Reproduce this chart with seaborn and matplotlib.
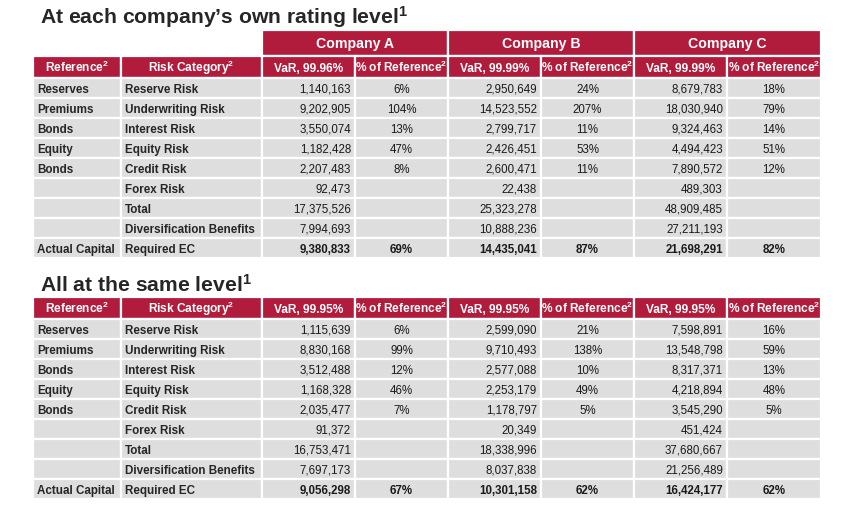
import seaborn as sns
from matplotlib import pyplot as plt
from matplotlib.patches import Rectangle

references = ["Reserves", "Premiums", "Bonds", "Equity", "Bonds", "", "", "", "Actual Capital"]
risk_categories = ["Reserve Risk", "Underwriting Risk", "Interest Risk", "Equity Risk", "Credit Risk",
                   "Forex Risk", "Total", "Diversification Benefits", "Required EC"]
companies = ["Company A", "Company B", "Company C"]
own_levels = ["99.96%", "99.99%", "99.99%"]
same_levels = ["99.95%", "99.95%", "99.95%"]

own_var_a = [1140163, 9202905, 3550074, 1182428, 2207483, 92473, 17375526, 7994693, 9380833]
own_pct_a = [6, 104, 13, 47, 8, None, None, None, 69]
own_var_b = [2950649, 14523552, 2799717, 2426451, 2600471, 22438, 25323278, 10888236, 14435041]
own_pct_b = [24, 207, 11, 53, 11, None, None, None, 87]
own_var_c = [8679783, 18030940, 9324463, 4494423, 7890572, 489303, 48909485, 27211193, 21698291]
own_pct_c = [18, 79, 14, 51, 12, None, None, None, 82]

same_var_a = [1115639, 8830168, 3512488, 1168328, 2035477, 91372, 16753471, 7697173, 9056298]
same_pct_a = [6, 99, 12, 46, 7, None, None, None, 67]
same_var_b = [2599090, 9710493, 2577088, 2253179, 1178797, 20349, 18338996, 8037838, 10301158]
same_pct_b = [21, 138, 10, 49, 5, None, None, None, 62]
same_var_c = [7598891, 13548798, 8317371, 4218894, 3545290, 451424, 37680667, 21256489, 16424177]
same_pct_c = [16, 59, 13, 48, 5, None, None, None, 62]

RED = "#B21C3C"
GREY = "#DEDEDE"
COL_EDGES = [33, 121, 262, 355, 448, 541, 634, 727, 821]
ROW_H = 20
HEAD_H = 22
FONT = "Liberation Sans"
SUP = r"$^{\mathbf{2}}$"


def _cell(ax, x0, x1, y0, h, color):
    ax.add_patch(Rectangle((x0, y0), x1 - x0, h, facecolor=color, edgecolor="white", linewidth=1.6))


def _header_row(ax, top, levels):
    labels = ["Reference" + SUP, "Risk Category" + SUP]
    for lvl in levels:
        labels += [f"VaR, {lvl}", "% of Reference" + SUP]
    for i, lab in enumerate(labels):
        x0, x1 = COL_EDGES[i], COL_EDGES[i + 1]
        _cell(ax, x0, x1, top, HEAD_H, RED)
        ax.text((x0 + x1) / 2, top + HEAD_H / 2 + 5, lab, ha="center", va="baseline",
                color="white", fontsize=8.6, fontweight="bold", family=FONT)


def _body(ax, top, var_cols, pct_cols):
    n = len(risk_categories)
    for r in range(n):
        y0 = top + r * ROW_H
        yb = y0 + ROW_H / 2 + 4.6
        last = r == n - 1
        for i in range(len(COL_EDGES) - 1):
            _cell(ax, COL_EDGES[i], COL_EDGES[i + 1], y0, ROW_H, GREY)
        ax.text(COL_EDGES[0] + 4, yb, references[r], ha="left", va="baseline",
                fontsize=8.4, fontweight="bold", family=FONT)
        ax.text(COL_EDGES[1] + 4, yb, risk_categories[r], ha="left", va="baseline",
                fontsize=8.4, fontweight="bold", family=FONT)
        w = "bold" if last else "normal"
        for k, (vals, pcts) in enumerate(zip(var_cols, pct_cols)):
            xv = COL_EDGES[2 + 2 * k + 1] - 4
            ax.text(xv, yb, f"{vals[r]:,}", ha="right", va="baseline", color="#1a1a1a",
                    fontsize=8.3, fontweight=w, family=FONT)
            if pcts[r] is not None:
                xp = (COL_EDGES[3 + 2 * k] + COL_EDGES[4 + 2 * k]) / 2
                ax.text(xp, yb, f"{pcts[r]}%", ha="center", va="baseline", color="#1a1a1a",
                        fontsize=8.3, fontweight=w, family=FONT)


sns.set_theme(style="white")
plt.rcParams.update({"mathtext.fontset": "custom", "mathtext.rm": FONT,
                     "mathtext.bf": FONT + ":bold", "mathtext.it": FONT + ":italic"})
fig = plt.figure(figsize=(8.5, 5.11), dpi=100)
ax = fig.add_axes([0, 0, 1, 1])
ax.set_xlim(0, 850)
ax.set_ylim(511, 0)
ax.axis("off")

# first table: own rating level
ax.text(40, 24, "At each company\u2019s own rating level" + r"$^{\mathbf{1}}$", ha="left", va="baseline",
        fontsize=15.2, fontweight="bold", family=FONT)
for k, name in enumerate(companies):
    x0, x1 = COL_EDGES[2 + 2 * k], COL_EDGES[4 + 2 * k]
    _cell(ax, x0, x1, 30, 26, RED)
    ax.text((x0 + x1) / 2, 48, name, ha="center", va="baseline", color="white",
            fontsize=10.2, fontweight="bold", family=FONT)
_header_row(ax, 56, own_levels)
_body(ax, 78, [own_var_a, own_var_b, own_var_c], [own_pct_a, own_pct_b, own_pct_c])

# second table: same level
ax.text(40, 292, "All at the same level" + r"$^{\mathbf{1}}$", ha="left", va="baseline",
        fontsize=15.2, fontweight="bold", family=FONT)
_header_row(ax, 297, same_levels)
_body(ax, 319, [same_var_a, same_var_b, same_var_c], [same_pct_a, same_pct_b, same_pct_c])

fig.savefig("out.png", dpi=100)
